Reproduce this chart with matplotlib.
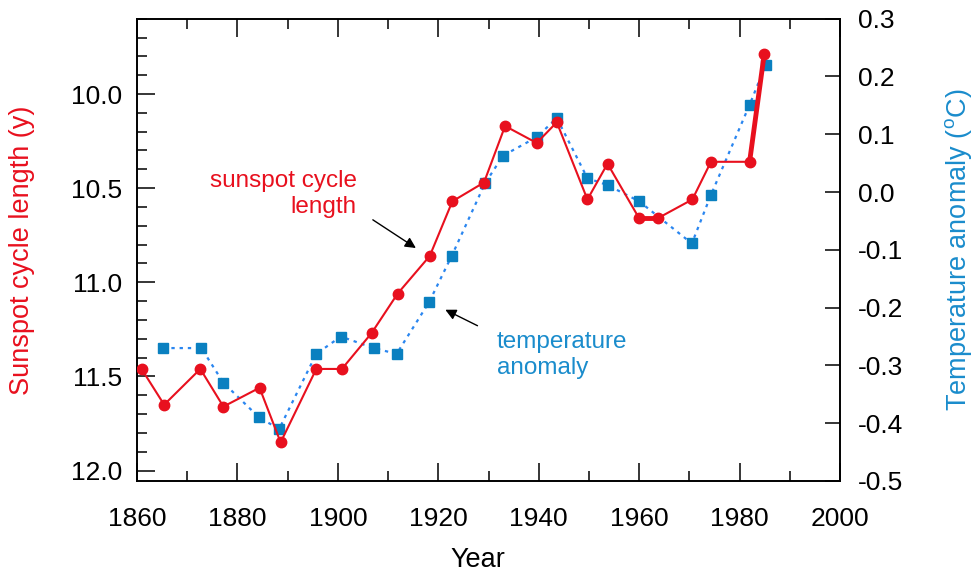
import matplotlib
matplotlib.use("Agg")
import matplotlib.pyplot as plt
from matplotlib.ticker import MultipleLocator

plt.rcParams['font.family'] = ['Liberation Sans', 'DejaVu Sans']
plt.rcParams['axes.unicode_minus'] = False

# sunspot cycle length (years), plotted at cycle mid-points
sun_years = [1860.9, 1865.4, 1872.6, 1877.2, 1884.4, 1888.6, 1895.7, 1900.8,
             1906.7, 1911.9, 1918.3, 1922.8, 1929.1, 1933.3, 1939.6, 1943.6,
             1949.7, 1953.7, 1960.0, 1963.7, 1970.6, 1974.3, 1982.0, 1984.9]
sun_length = [11.46, 11.65, 11.46, 11.66, 11.56, 11.85, 11.46, 11.46,
              11.27, 11.06, 10.86, 10.57, 10.47, 10.17, 10.26, 10.15,
              10.56, 10.37, 10.66, 10.66, 10.56, 10.36, 10.36, 9.79]

# northern hemisphere temperature anomaly (deg C)
temp_years = [1865.2, 1872.8, 1877.2, 1884.3, 1888.3, 1895.7, 1900.6, 1907.1,
              1911.7, 1918.2, 1922.7, 1929.3, 1932.9, 1939.6, 1943.6, 1949.7,
              1953.7, 1960.0, 1970.5, 1974.3, 1982.0, 1985.2]
temp_anom = [-0.27, -0.27, -0.33, -0.39, -0.41, -0.28, -0.25, -0.27,
             -0.28, -0.19, -0.11, 0.015, 0.063, 0.095, 0.128, 0.024,
             0.012, -0.016, -0.089, -0.005, 0.151, 0.22]

red = '#e8101e'
blue_mark = '#0a80c0'
blue_line = '#2a86f0'
blue_text = '#1a8ccc'

fig = plt.figure(figsize=(9.74, 5.8), dpi=100)
ax = fig.add_axes([0.1407, 0.1707, 0.7217, 0.7971])
ax2 = ax.twinx()

# temperature (right axis)
ax2.plot(temp_years, temp_anom, linestyle=(0, (1.5, 2.2)), color=blue_line,
         linewidth=1.6, zorder=2)
ax2.plot(temp_years, temp_anom, linestyle='none', marker='s', markersize=6.5,
         color=blue_mark, zorder=3)
ax2.set_ylim(-0.5, 0.3)
ax2.yaxis.set_major_locator(MultipleLocator(0.1))
ax2.yaxis.set_major_formatter(matplotlib.ticker.FormatStrFormatter('%.1f'))
ax2.tick_params(axis='y', direction='in', length=11, width=1.1, labelsize=19, pad=13)
ax2.set_ylabel('Temperature anomaly ($^\\mathregular{o}$C)', fontsize=19.5,
               color=blue_text)
ax2.yaxis.set_label_coords(1.147, 0.5)

# sunspot cycle length (left axis, inverted), drawn on top
ax.set_zorder(ax2.get_zorder() + 1)
ax.patch.set_visible(False)
ax.plot(sun_years, sun_length, color=red, linewidth=1.5, marker='o',
        markersize=7.5, zorder=3)
ax.plot(sun_years[18:20], sun_length[18:20], color=red, linewidth=3.5, zorder=3)
ax.plot(sun_years[22:24], sun_length[22:24], color=red, linewidth=3.5, zorder=3)
ax.set_xlim(1860, 2000)
ax.set_ylim(12.055, 9.6)
ax.xaxis.set_major_locator(MultipleLocator(20))
ax.xaxis.set_minor_locator(MultipleLocator(10))
ax.yaxis.set_major_locator(MultipleLocator(0.5))
ax.yaxis.set_minor_locator(MultipleLocator(0.1))
ax.yaxis.set_major_formatter(matplotlib.ticker.FormatStrFormatter('%.1f'))
ax.tick_params(axis='x', which='both', direction='in', top=True, labelsize=19, pad=19)
ax.tick_params(axis='y', which='both', direction='in', right=False, labelsize=19, pad=11)
ax.tick_params(which='major', length=13, width=1.1)
ax.tick_params(which='minor', length=7.5, width=1.1)
ax.set_xlabel('Year', fontsize=19.5)
ax.xaxis.set_label_coords(0.485, -0.143)
ax.set_ylabel('Sunspot cycle length (y)', fontsize=19.5, color=red)
ax.yaxis.set_label_coords(-0.145, 0.5)
for a in (ax, ax2):
    for s in a.spines.values():
        s.set_linewidth(1.2)

ax.text(1903.8, 10.53, 'sunspot cycle\nlength', color=red, fontsize=17.5,
        ha='right', va='center', multialignment='right', linespacing=1.25)
ax.annotate('', xy=(1916.0, 10.826), xytext=(1906.5, 10.66),
            arrowprops=dict(arrowstyle='-|>', color='black', lw=1.0,
                            mutation_scale=16))
ax.text(1931.6, 11.387, 'temperature\nanomaly', color=blue_text, fontsize=17.5,
        ha='left', va='center', linespacing=1.2)
ax.annotate('', xy=(1920.9, 11.139), xytext=(1928.3, 11.237),
            arrowprops=dict(arrowstyle='-|>', color='black', lw=1.0,
                            mutation_scale=16))

fig.savefig('out.png', dpi=100)
